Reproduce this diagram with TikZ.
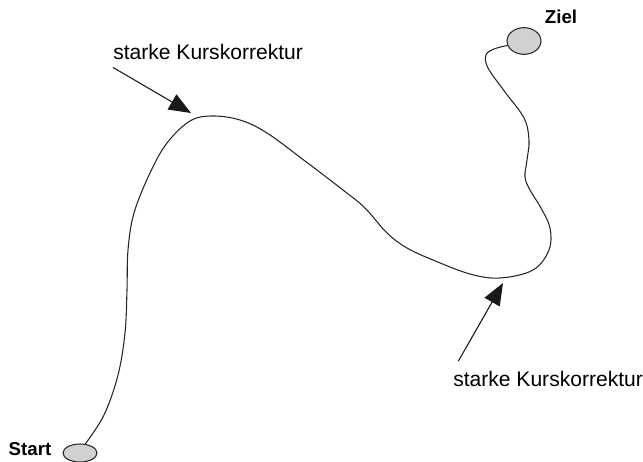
\documentclass[tikz,border=0pt]{standalone}
\usepackage{fontspec}
\setmainfont{Liberation Sans}
\usetikzlibrary{arrows.meta, shapes.geometric}

\begin{document}
\begin{tikzpicture}[x=0.75pt, y=-0.75pt,
  ort/.style={draw=black!85, fill=black!18, ellipse, line width=0.8pt, inner sep=0pt},
  ortname/.style={font=\bfseries\fontsize{14}{16}\selectfont, inner sep=0pt},
  hinweis/.style={font=\fontsize{15.8}{18}\selectfont, inner sep=0pt},
  pfeil/.style={line width=0.8pt, black!90, -{Triangle[length=16.5pt, width=13pt]}},
  weg/.style={line width=0.8pt, black!85}]
\useasboundingbox (0,0) rectangle (643,461);

% start and goal
\node[ort, minimum width=25.5pt, minimum height=13.5pt] (start) at (80,453) {};
\node[ort, minimum width=25.5pt, minimum height=20pt] (ziel) at (524,41) {};
\node[ortname] (starttext) at (30,449.5) {Start};
\node[ortname] (zieltext) at (561,16.7) {Ziel};

% the route
\draw[weg] plot[smooth, tension=0.6] coordinates {(start.60) (104,415) (118,375)
  (125,333) (127,290) (128,250) (134,213) (150,173) (167,143) (190,121) (212,116)
  (240,120) (267,133) (305,161) (343,190) (365,208) (387,233) (407,248) (433,260)
  (470,274) (500,278) (533,270) (549,250) (550,228) (541,208) (530,190) (525,177)
  (527,160) (529,140) (524,118) (505,92) (488,68) (486,55) (494,49) (ziel.195)};

% corrections
\node[hinweis, anchor=base west] (kurs1) at (113,59) {starke Kurskorrektur};
\node[hinweis, anchor=base west] (kurs2) at (453,386) {starke Kurskorrektur};
\coordinate (knick1) at (191,113);
\coordinate (knick2) at (503,283);
\draw[pfeil] ([yshift=-6pt]kurs1.south west) -- (knick1);
\draw[pfeil] ([xshift=4pt, yshift=7pt]kurs2.north west) -- (knick2);
\end{tikzpicture}
\end{document}
